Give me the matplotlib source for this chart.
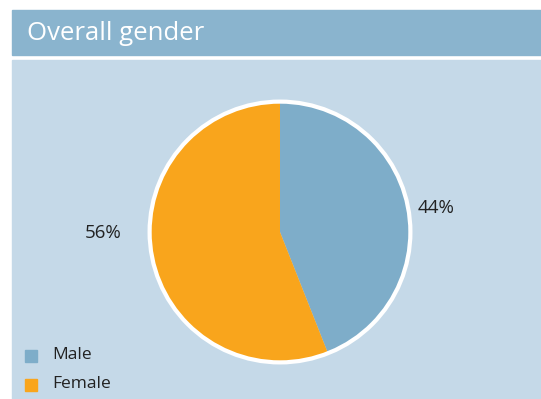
import matplotlib.pyplot as plt
from matplotlib.patches import Rectangle, Circle

labels = ["Male", "Female"]
shares = [44, 56]
colors = ["#7eadc9", "#f9a51c"]
title = "Overall gender"

W, H = 541, 399
fig = plt.figure(figsize=(W / 100, H / 100), dpi=100)
fig.patch.set_facecolor("white")

# background axes in pixel coords (y down)
bg = fig.add_axes([0, 0, 1, 1], zorder=0)
bg.set_xlim(0, W)
bg.set_ylim(H, 0)
bg.axis("off")
bg.add_patch(Rectangle((12, 10), W - 12, 45, color="#8ab4ce"))
bg.add_patch(Rectangle((12, 60), W - 12, H - 60, color="#c5d9e8"))

bg.text(27, 33, title, color="white", fontsize=18.5, family="Open Sans",
        va="center", ha="left")

bg.text(436, 208, f"{shares[0]}%", fontsize=13.5, family="Open Sans",
        color="#222222", ha="center", va="center")
bg.text(103, 233, f"{shares[1]}%", fontsize=13.5, family="Open Sans",
        color="#222222", ha="center", va="center")

# legend
for i, (lab, c) in enumerate(zip(labels, colors)):
    y = 355 + i * 29
    bg.add_patch(Rectangle((25, y - 5), 12, 12, color=c))
    bg.text(52, y, lab, fontsize=12.5, family="Open Sans",
            color="#222222", ha="left", va="center")

# pie axes: center (280, 232), radius ~132
cx, cy, r = 280, 232, 133
ax = fig.add_axes([(cx - r) / W, 1 - (cy + r) / H, 2 * r / W, 2 * r / H], zorder=1)
ax.pie(shares, colors=colors, startangle=90, counterclock=False,
       wedgeprops=dict(linewidth=0), radius=1)
ax.add_patch(Circle((0, 0), 1, fill=False, edgecolor="white", linewidth=3))
ax.set_xlim(-1.02, 1.02)
ax.set_ylim(-1.02, 1.02)
ax.set_aspect("equal")
ax.axis("off")

fig.savefig("out.png", dpi=100)
